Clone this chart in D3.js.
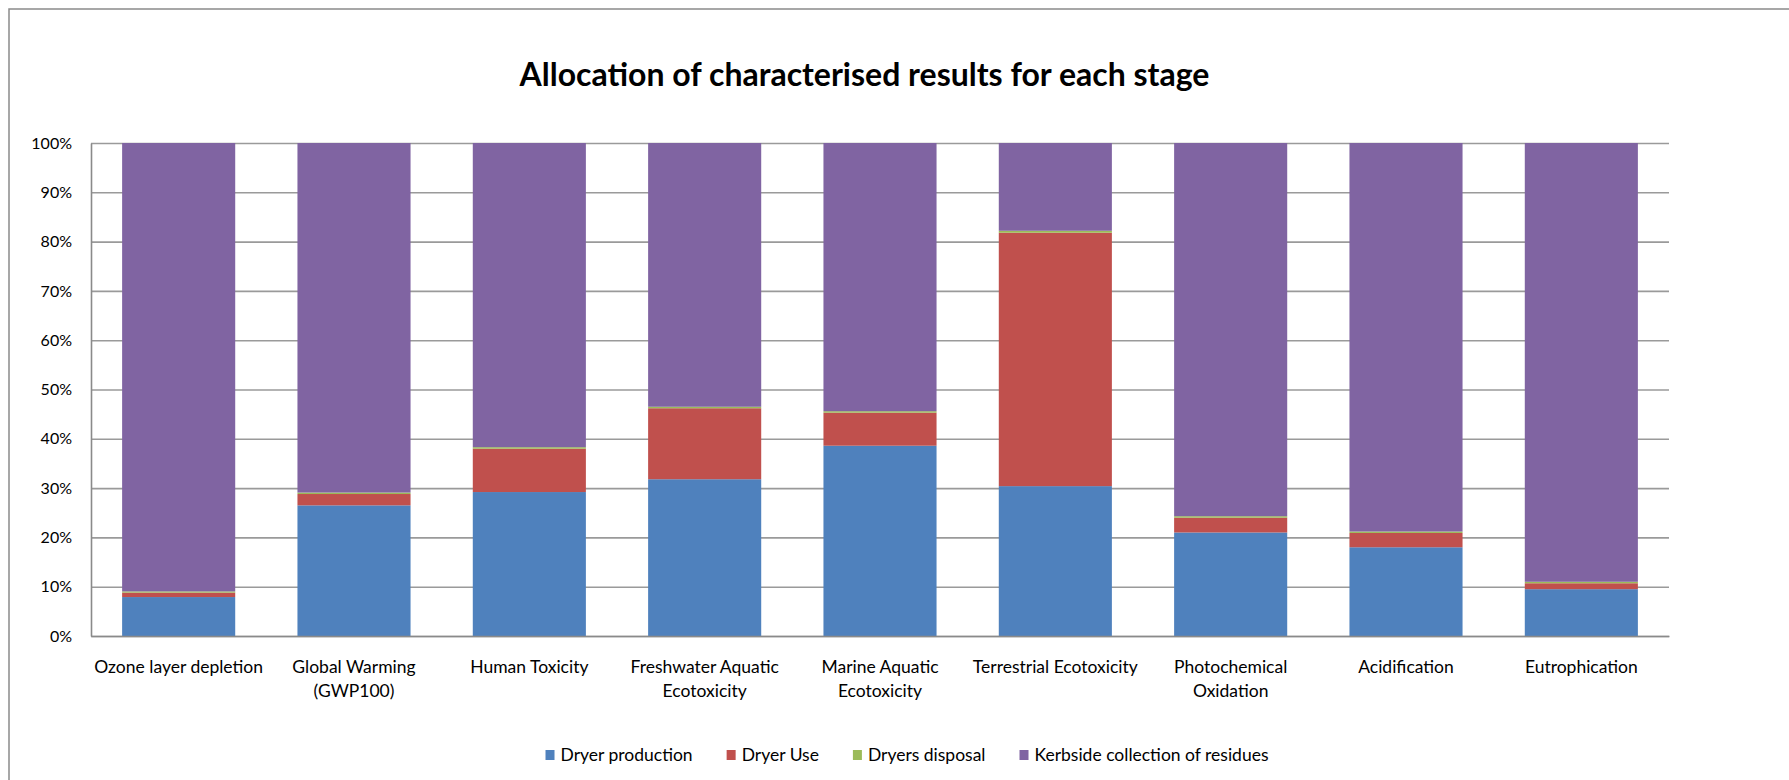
<!DOCTYPE html>
<html>
<head>
<meta charset="utf-8">
<script src="https://cdn.jsdelivr.net/npm/d3@7"></script>
<style>
  html, body { margin: 0; padding: 0; background: #fff; }
  svg { display: block; }
  text { font-family: Lato, "Open Sans", sans-serif; fill: #000; }
</style>
</head>
<body>
<svg id="chart" width="1789" height="780"></svg>
<script>
// Impact categories (line breaks where the axis label wraps)
const categories = [
  "Ozone layer depletion",
  "Global Warming\n(GWP100)",
  "Human Toxicity",
  "Freshwater Aquatic\nEcotoxicity",
  "Marine Aquatic\nEcotoxicity",
  "Terrestrial Ecotoxicity",
  "Photochemical\nOxidation",
  "Acidification",
  "Eutrophication"
];

// Share of each life-cycle stage, in percent
const dryerProduction = [7.9, 26.5, 29.2, 31.8, 38.6, 30.4, 21.0, 18.0, 9.5];
const dryerUse        = [0.9, 2.3, 8.8, 14.4, 6.7, 51.4, 3.0, 2.9, 1.2];
const dryersDisposal  = [0.25, 0.3, 0.3, 0.3, 0.3, 0.4, 0.3, 0.3, 0.3];
const kerbside        = [90.95, 70.9, 61.7, 53.5, 54.4, 17.8, 75.7, 78.8, 89.0];

const seriesNames  = ["Dryer production", "Dryer Use", "Dryers disposal", "Kerbside collection of residues"];
const seriesColors = ["#4F81BD", "#C0504D", "#9BBB59", "#8064A2"];
const yTicks = [0, 0.1, 0.2, 0.3, 0.4, 0.5, 0.6, 0.7, 0.8, 0.9, 1.0];

const seriesValues = [dryerProduction, dryerUse, dryersDisposal, kerbside];
const rows = categories.map((c, i) => {
  const r = { category: c };
  seriesNames.forEach((s, k) => { r[s] = seriesValues[k][i]; });
  return r;
});

const svg = d3.select("#chart");
const margin = { left: 91, right: 1789 - 1669, top: 143, bottom: 780 - 636 };
const W = 1789 - margin.left - margin.right;
const H = 780 - margin.top - margin.bottom;

// Chart frame
svg.append("rect")
  .attr("x", 9).attr("y", 9)
  .attr("width", 1900).attr("height", 900)
  .attr("fill", "none").attr("stroke", "#8a8a8a").attr("stroke-width", 1.5);

// Title
svg.append("text")
  .attr("x", 864.5).attr("y", 86)
  .attr("text-anchor", "middle")
  .style("font-weight", "700")
  .style("font-size", "32px")
  .text("Allocation of characterised results for each stage");

const g = svg.append("g").attr("transform", `translate(${margin.left},${margin.top})`);

const x = d3.scaleBand()
  .domain(categories)
  .range([0, W])
  .paddingInner(0.355)
  .paddingOuter(0.1775);

const y = d3.scaleLinear().domain([0, 1]).range([H, 0]);

// Gridlines
g.append("g")
  .call(d3.axisLeft(y).tickValues(yTicks).tickSize(-W).tickFormat(""))
  .call(a => a.select(".domain").remove())
  .call(a => a.selectAll("line").attr("stroke", "#9a9a9a").attr("stroke-width", 1.6));

// 100% stacked bars
const stack = d3.stack().keys(seriesNames).offset(d3.stackOffsetExpand);
const layers = stack(rows);

g.append("g").selectAll("g")
  .data(layers)
  .join("g")
  .attr("fill", (d, i) => seriesColors[i])
  .selectAll("rect")
  .data(d => d)
  .join("rect")
  .attr("x", d => x(d.data.category))
  .attr("width", x.bandwidth())
  .attr("y", d => y(d[1]))
  .attr("height", d => y(d[0]) - y(d[1]));

// Value axis
const yAxis = g.append("g")
  .call(d3.axisLeft(y).tickValues(yTicks).tickSize(0).tickPadding(19).tickFormat(d3.format(".0%")));
yAxis.select(".domain").attr("stroke", "#8a8a8a").attr("stroke-width", 1.6);
yAxis.selectAll("text").style("font-size", "16px").attr("fill", "#000");

// Category axis
const xAxis = g.append("g")
  .attr("transform", `translate(0,${H})`)
  .call(d3.axisBottom(x).tickSize(0).tickFormat(""));
xAxis.select(".domain").attr("stroke", "#8a8a8a").attr("stroke-width", 1.6);
xAxis.selectAll(".tick").each(function(d) {
  const t = d3.select(this).append("text")
    .attr("text-anchor", "middle")
    .style("font-size", "17.5px")
    .attr("fill", "#000");
  d.split("\n").forEach((line, i) => {
    t.append("tspan").attr("x", 0).attr("y", 37 + i * 23.5).text(line);
  });
});

// Legend
const legend = svg.append("g");
const items = legend.selectAll("g")
  .data(seriesNames)
  .join("g");
items.append("rect")
  .attr("width", 9).attr("height", 10)
  .attr("y", -5)
  .attr("fill", (d, i) => seriesColors[i]);
items.append("text")
  .attr("x", 15).attr("dy", "0.35em")
  .style("font-size", "17.5px")
  .text(d => d);
let cursor = 0;
items.each(function() {
  const w = this.getBBox().width;
  d3.select(this).attr("transform", `translate(${cursor},0)`);
  cursor += w + 34;
});
const total = cursor - 34;
legend.attr("transform", `translate(${907 - total / 2},755)`);
</script>
</body>
</html>
